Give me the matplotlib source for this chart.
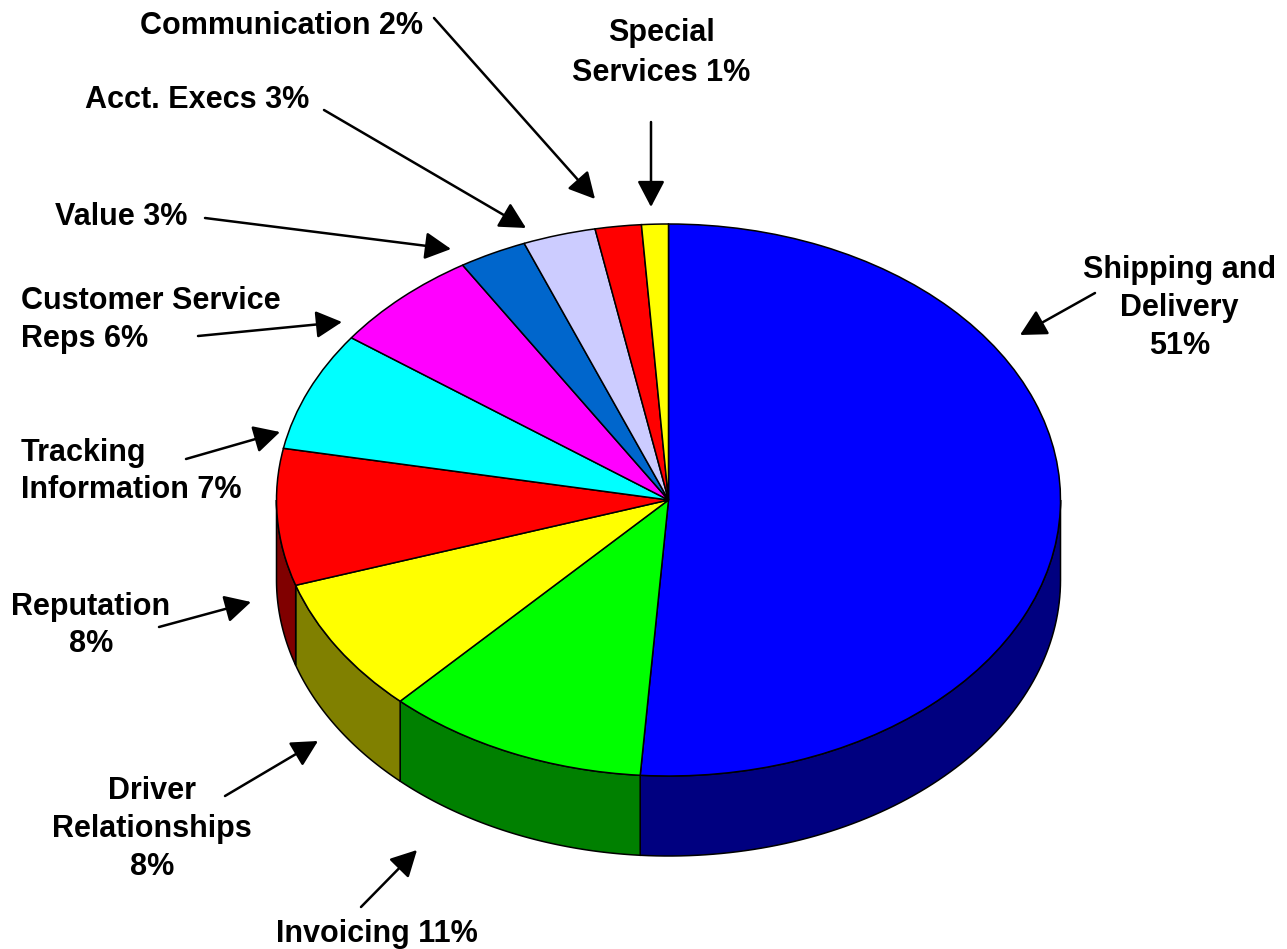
#!/usr/bin/python

import numpy as np
import matplotlib
matplotlib.use("Agg")
import matplotlib.pyplot as plt

# clockwise from the top (the printed labels are rounded)
shares = [51.15, 10.85, 8, 8, 7, 6.2, 2.8, 3, 1.9, 1.1]
top_colors = ['#0000ff', '#00ff00', '#ffff00', '#ff0000', '#00ffff',
              '#ff00ff', '#0066cc', '#ccccff', '#ff0000', '#ffff00']
side_colors = ['#000080', '#008000', '#808000', '#800000', '#008080',
               '#800080', '#003366', '#666680', '#800000', '#808000']

labels = ['Shipping and\nDelivery\n51%', 'Invoicing 11%', 'Driver\nRelationships\n8%',
          'Reputation\n8%', 'Tracking\nInformation 7%', 'Customer Service\nReps 6%',
          'Value 3%', 'Acct. Execs 3%', 'Communication 2%', 'Special\nServices 1%']
label_x = [1179.5, 376.5, 152, 91, 21, 21, 121.5, 197, 281, 661]
label_y = [308, 934, 829, 625.5, 471.5, 320, 217, 100, 26, 53]
label_ha = ['center', 'center', 'center', 'center', 'left', 'left',
            'center', 'center', 'center', 'center']
label_spacing = [1.35, 1.35, 1.35, 1.33, 1.33, 1.33, 1.33, 1.33, 1.33, 1.42]

arrow_from = [(1095, 293), (361, 907), (225, 796), (159, 627), (186, 459),
              (198, 336), (205, 218), (324, 110), (434, 18), (651, 122)]
arrow_to = [(1020, 335), (417, 850), (318, 741), (251, 602), (280, 432),
            (342, 322), (451, 249), (526, 228), (595, 199), (651, 207)]

W, H = 1287, 949
CX, CY, RX, RY, DEPTH = 668.5, 500, 392, 276, 80


def draw_walls(ax, shares, colors):
    # side of the disc, only the part facing the viewer (90 to 270 deg clockwise from top)
    edges = np.cumsum([0] + shares) / np.sum(shares) * 360
    drop = DEPTH / RY
    for i in range(len(shares)):
        a = max(edges[i], 90)
        b = min(edges[i + 1], 270)
        if b <= a:
            continue
        t = np.radians(np.linspace(a, b, 80))
        x = np.sin(t)
        y = np.cos(t)
        ax.fill(np.r_[x, x[::-1]], np.r_[y, y[::-1] - drop],
                facecolor=colors[i], edgecolor='black', linewidth=1.1, zorder=1)


fig = plt.figure(figsize=(W / 100, H / 100), dpi=100)
ax = fig.add_axes([0, 0, 1, 1])

ax.pie(shares, colors=top_colors, startangle=90, counterclock=False,
       wedgeprops={'edgecolor': 'black', 'linewidth': 1.1, 'zorder': 2})
draw_walls(ax, shares, side_colors)
# unequal scales squash the round pie into the tilted ellipse
ax.set_aspect('auto')
ax.set_xlim(-CX / RX, (W - CX) / RX)
ax.set_ylim((CY - H) / RY, CY / RY)
ax.axis('off')

over = fig.add_axes([0, 0, 1, 1])
over.set_xlim(0, W)
over.set_ylim(H, 0)
over.axis('off')

for i in range(len(labels)):
    over.text(label_x[i], label_y[i], labels[i], ha=label_ha[i], va='center',
              multialignment=label_ha[i], family='Liberation Sans', weight='bold',
              fontsize=22, linespacing=label_spacing[i], color='black')
    over.annotate('', xy=arrow_to[i], xytext=arrow_from[i],
                  arrowprops=dict(arrowstyle='-|>,head_length=0.8,head_width=0.42',
                                  mutation_scale=20, color='black', lw=1.8,
                                  shrinkA=0, shrinkB=0))

plt.savefig('out.png', dpi=100)
